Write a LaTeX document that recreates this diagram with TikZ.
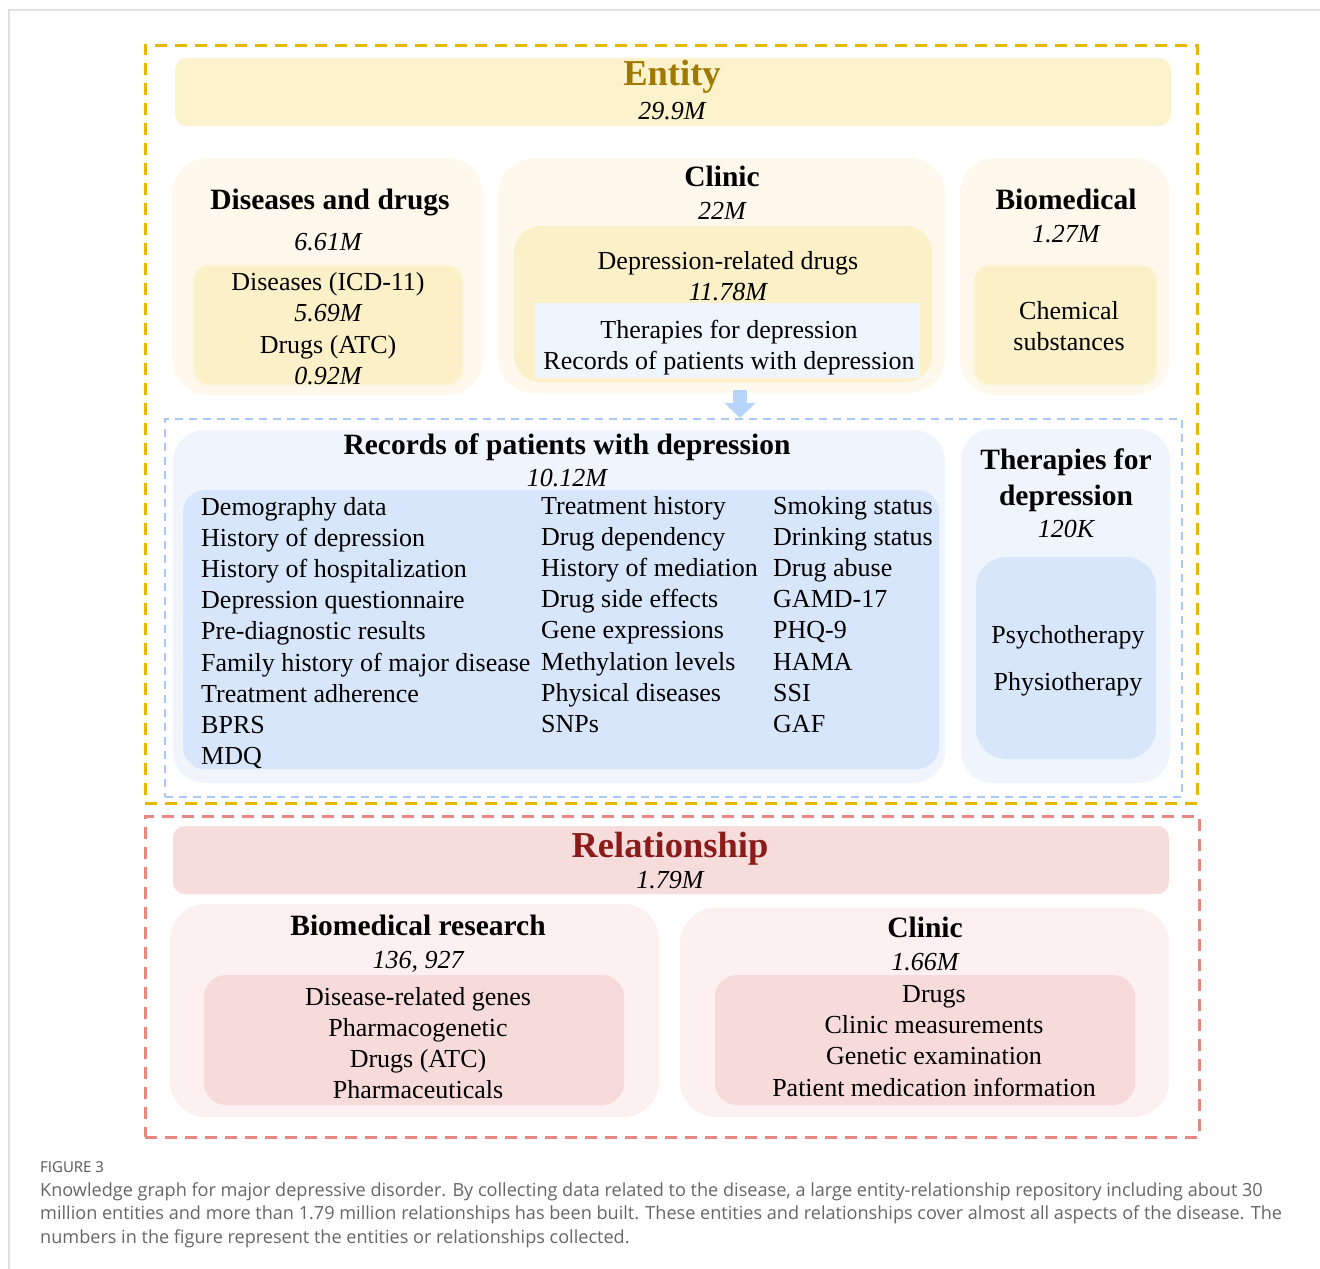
\documentclass[tikz,border=0pt]{standalone}
\usepackage{fontspec}
\setmainfont{Liberation Serif}
\newfontfamily\capfont{Open Sans}
\usetikzlibrary{arrows.meta}
\definecolor{framegray}{RGB}{224,224,224}
\definecolor{golddash}{RGB}{230,184,0}
\definecolor{goldtitle}{RGB}{160,122,0}
\definecolor{entbar}{RGB}{252,242,204}
\definecolor{yout}{RGB}{254,249,236}
\definecolor{yin}{RGB}{252,240,200}
\definecolor{yedge}{RGB}{253,246,222}
\definecolor{lblue}{RGB}{239,245,253}
\definecolor{bluedash}{RGB}{170,200,245}
\definecolor{bout}{RGB}{240,245,253}
\definecolor{bin}{RGB}{216,230,251}
\definecolor{arrowblue}{RGB}{183,211,247}
\definecolor{reddash}{RGB}{232,135,127}
\definecolor{relbar}{RGB}{247,220,220}
\definecolor{reltitle}{RGB}{139,26,26}
\definecolor{rout}{RGB}{253,240,240}
\definecolor{rin}{RGB}{247,218,218}
\definecolor{capgray}{RGB}{102,102,102}
\definecolor{capdark}{RGB}{85,85,85}
\begin{document}
\begin{tikzpicture}[x=1pt,y=-1pt,
  box/.style={rectangle, inner sep=0pt, outer sep=0pt},
  tx/.style={anchor=mid, inner sep=0pt, yshift=-7pt, font=\fontsize{26}{30}\selectfont},
  txl/.style={tx, anchor=mid west},
  ti/.style={tx, font=\fontsize{26}{30}\selectfont\itshape},
  tb/.style={tx, font=\fontsize{29.5}{33}\selectfont\bfseries},
  big/.style={tx, yshift=-1.5pt, font=\fontsize{36.5}{40}\selectfont\bfseries},
  captext/.style={anchor=mid west, inner sep=0pt, yshift=-4pt, text=capgray, font=\capfont\fontsize{18.1}{22}\selectfont},
  wavy/.style={box, fill=yin, draw=yedge, line width=2.5pt, dash pattern=on 5pt off 3pt, rounded corners=16pt}
]
\useasboundingbox (0,0) rectangle (1320,1269);
\fill[white] (0,0) rectangle (1320,1269);
% page frame
\draw[framegray, line width=2pt] (9,1269) -- (9,10) -- (1320,10);

% ===== Entity =====
\node[box, draw=golddash, line width=3pt, dash pattern=on 12pt off 8pt, minimum width=1052pt, minimum height=758pt] (entframe) at (671,424) {};
\node[box, fill=entbar, rounded corners=12pt, minimum width=996pt, minimum height=68pt] (entbar) at (673,92) {};
\node[big, text=goldtitle] (enttitle) at (672,75) {Entity};
\node[ti] (entnum) at (672,110) {29.9M};

% Diseases and drugs
\node[box, fill=yout, rounded corners=36pt, minimum width=311pt, minimum height=237pt] (dd) at (327.5,276.5) {};
\node[wavy, minimum width=270pt, minimum height=120pt] (ddin) at (328,325) {};
\node[tb] (ddtitle) at (330,200) {Diseases and drugs};
\node[ti] (ddnum) at (328,241) {6.61M};
\node[tx] (ddA) at (328,281) {Diseases (ICD-11)};
\node[ti] (ddAn) at (328,312) {5.69M};
\node[tx] (ddB) at (328,344) {Drugs (ATC)};
\node[ti] (ddBn) at (328,375) {0.92M};

% Clinic
\node[box, fill=yout, rounded corners=36pt, minimum width=447pt, minimum height=235pt] (cl) at (721.5,275.5) {};
\node[box, fill=yin, rounded corners=26pt, minimum width=418pt, minimum height=156pt] (clin) at (723,304) {};
\node[box, fill=lblue, minimum width=385pt, minimum height=75pt] (clblue) at (727.5,340.5) {};
\node[tb] (cltitle) at (722,177) {Clinic};
\node[ti] (clnum) at (722,210) {22M};
\node[tx] (clA) at (728,260) {Depression-related drugs};
\node[ti] (clAn) at (728,291) {11.78M};
\node[tx] (clB) at (729,329) {Therapies for depression};
\node[tx] (clC) at (729,360) {Records of patients with depression};

% Biomedical
\node[box, fill=yout, rounded corners=36pt, minimum width=210pt, minimum height=237pt] (bio) at (1065,276.5) {};
\node[wavy, minimum width=183pt, minimum height=120pt] (bioin) at (1065.5,325) {};
\node[tb] (biotitle) at (1066,200) {Biomedical};
\node[ti] (bionum) at (1066,233) {1.27M};
\node[tx] (bioA) at (1069,310) {Chemical};
\node[tx] (bioB) at (1069,341) {substances};

% arrow
\coordinate (arrS) at (740,390);
\coordinate (arrE) at (740,418);
\draw[arrowblue, line width=14pt, -{Triangle[width=30pt,length=15pt]}] (arrS) -- (arrE);

% blue dashed frame
\node[box, draw=bluedash, line width=1.8pt, dash pattern=on 8pt off 6pt, minimum width=1017pt, minimum height=378pt] (blueframe) at (673.5,608) {};

% Records
\node[box, fill=bout, rounded corners=32pt, minimum width=772pt, minimum height=353pt] (rec) at (559,606.5) {};
\node[box, fill=bin, rounded corners=22pt, minimum width=756pt, minimum height=279pt] (recin) at (561,629.5) {};
\node[tb] (rectitle) at (567,445) {Records of patients with depression};
\node[ti] (recnum) at (567,477) {10.12M};
\node[txl] (r11) at (201,506) {Demography data};
\node[txl] (r12) at (201,537) {History of depression};
\node[txl] (r13) at (201,568) {History of hospitalization};
\node[txl] (r14) at (201,599) {Depression questionnaire};
\node[txl] (r15) at (201,630) {Pre-diagnostic results};
\node[txl] (r16) at (201,662) {Family history of major disease};
\node[txl] (r17) at (201,693) {Treatment adherence};
\node[txl] (r18) at (201,724) {BPRS};
\node[txl] (r19) at (201,755) {MDQ};
\node[txl] (r21) at (541,505) {Treatment history};
\node[txl] (r22) at (541,536) {Drug dependency};
\node[txl] (r23) at (541,567) {History of mediation};
\node[txl] (r24) at (541,598) {Drug side effects};
\node[txl] (r25) at (541,629) {Gene expressions};
\node[txl] (r26) at (541,661) {Methylation levels};
\node[txl] (r27) at (541,692) {Physical diseases};
\node[txl] (r28) at (541,723) {SNPs};
\node[txl] (r31) at (773,505) {Smoking status};
\node[txl] (r32) at (773,536) {Drinking status};
\node[txl] (r33) at (773,567) {Drug abuse};
\node[txl] (r34) at (773,598) {GAMD-17};
\node[txl] (r35) at (773,629) {PHQ-9};
\node[txl] (r36) at (773,661) {HAMA};
\node[txl] (r37) at (773,692) {SSI};
\node[txl] (r38) at (773,723) {GAF};

% Therapies
\node[box, fill=bout, rounded corners=32pt, minimum width=209pt, minimum height=354pt] (th) at (1065.5,606) {};
\node[box, fill=bin, rounded corners=30pt, minimum width=180pt, minimum height=202pt] (thin) at (1066,658) {};
\node[tb] (thtitleA) at (1066,460) {Therapies for};
\node[tb] (thtitleB) at (1066,496) {depression};
\node[ti] (thnum) at (1066,528) {120K};
\node[tx] (thA) at (1068,634) {Psychotherapy};
\node[tx] (thB) at (1068,681) {Physiotherapy};

% ===== Relationship =====
\node[box, draw=reddash, line width=3pt, dash pattern=on 12pt off 8pt, minimum width=1054pt, minimum height=321pt] (relframe) at (672,976.5) {};
\node[box, fill=relbar, rounded corners=12pt, minimum width=996pt, minimum height=68pt] (relbar) at (671,860) {};
\node[big, text=reltitle] (reltitle) at (670,847) {Relationship};
\node[ti] (relnum) at (670,879) {1.79M};

% Biomedical research
\node[box, fill=rout, rounded corners=36pt, minimum width=489pt, minimum height=213pt] (br) at (414.5,1010.5) {};
\node[box, fill=rin, rounded corners=22pt, minimum width=420pt, minimum height=130pt] (brin) at (414,1040) {};
\node[tb] (brtitle) at (418,926) {Biomedical research};
\node[ti] (brnum) at (418,959) {136, 927};
\node[tx] (brA) at (418,996) {Disease-related genes};
\node[tx] (brB) at (418,1027) {Pharmacogenetic};
\node[tx] (brC) at (418,1058) {Drugs (ATC)};
\node[tx] (brD) at (418,1089) {Pharmaceuticals};

% Clinic (relationship)
\node[box, fill=rout, rounded corners=36pt, minimum width=489pt, minimum height=209pt] (cr) at (924.5,1012.5) {};
\node[box, fill=rin, rounded corners=22pt, minimum width=420pt, minimum height=130pt] (crin) at (925,1040) {};
\node[tb] (crtitle) at (925,928) {Clinic};
\node[ti] (crnum) at (925,961) {1.66M};
\node[tx] (crA) at (934,993) {Drugs};
\node[tx] (crB) at (934,1024) {Clinic measurements};
\node[tx] (crC) at (934,1055) {Genetic examination};
\node[tx] (crD) at (934,1087) {Patient medication information};

% caption
\node[anchor=mid west, inner sep=0pt, yshift=-4pt, text=capdark, font=\capfont\fontsize{15}{17}\selectfont] (figlabel) at (40,1166) {FIGURE 3};
\node[captext] (cap1) at (40,1190) {Knowledge graph for major depressive disorder. By collecting data related to the disease, a large entity-relationship repository including about 30};
\node[captext] (cap2) at (40,1213) {million entities and more than 1.79 million relationships has been built. These entities and relationships cover almost all aspects of the disease. The};
\node[captext] (cap3) at (40,1237) {numbers in the figure represent the entities or relationships collected.};
\end{tikzpicture}
\end{document}
